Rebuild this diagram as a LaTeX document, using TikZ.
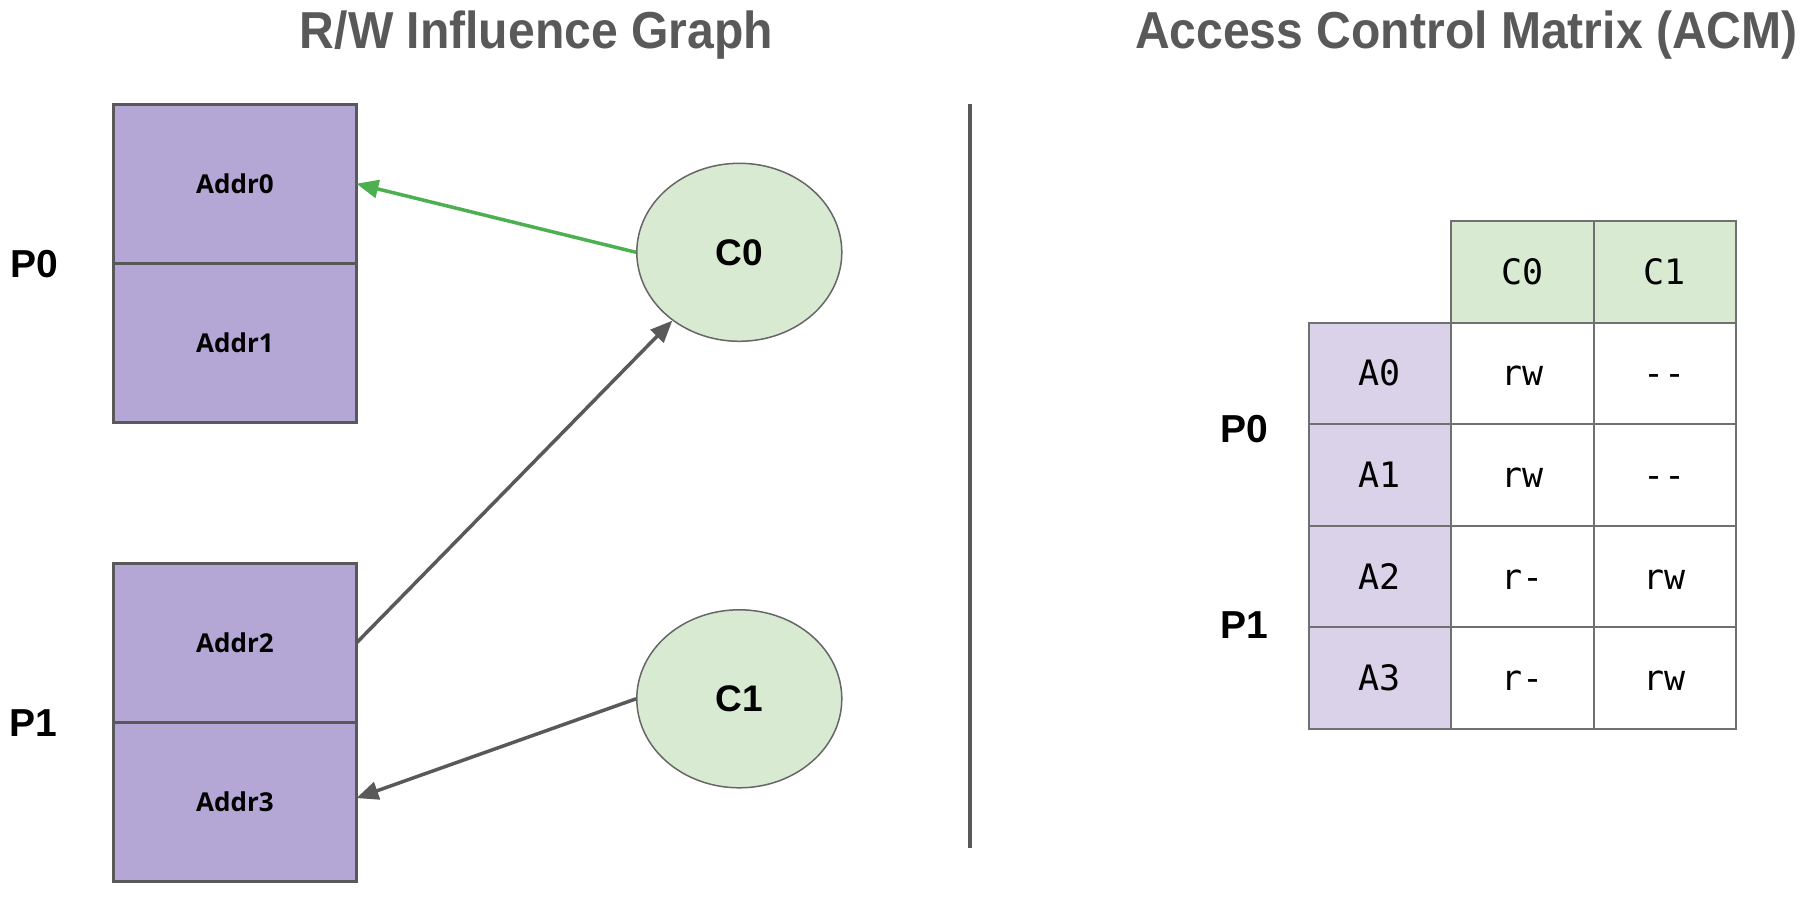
\documentclass[tikz,border=0pt]{standalone}
\usepackage{fontspec}
\setmainfont{Liberation Sans}
\newfontfamily\titlefont[FakeStretch=0.925]{Liberation Sans Bold}
\newfontfamily\addrfont{Open Sans}
\newfontfamily\monofont{DejaVu Sans Mono}
\usetikzlibrary{shapes.geometric,arrows.meta,calc}
\definecolor{boxfill}{HTML}{B4A7D6}
\definecolor{ellfill}{HTML}{D9EAD3}
\definecolor{rowfill}{HTML}{D9D2E9}
\definecolor{darkgray}{HTML}{595959}
\definecolor{tablegray}{HTML}{707070}
\definecolor{ellgray}{HTML}{666666}
\definecolor{arrowgreen}{HTML}{4CAF50}
\tikzset{
  title/.style={anchor=base, text=darkgray, font=\titlefont\fontsize{52}{60}\selectfont, inner sep=0pt},
  addr/.style={draw=darkgray, fill=boxfill, line width=3pt, minimum width=243pt, minimum height=159.1pt,
    inner sep=0pt, outer sep=0pt, font=\addrfont\bfseries\fontsize{26}{30}\selectfont},
  cnode/.style={ellipse, draw=ellgray, fill=ellfill, line width=1.5pt, minimum width=205pt, minimum height=178pt,
    inner sep=0pt, font=\bfseries\fontsize{37}{42}\selectfont},
  plabel/.style={font=\bfseries\fontsize{39}{44}\selectfont, inner sep=0pt},
  cell/.style={draw=tablegray, line width=2pt, minimum width=142.5pt, minimum height=101.6pt, inner sep=0pt,
    outer sep=0pt, text height=25pt, text depth=0pt, font=\monofont\fontsize{35}{40}\selectfont},
  hdr/.style={cell, fill=ellfill},
  rowhdr/.style={cell, fill=rowfill},
  grayarrow/.style={draw=darkgray, line width=3.5pt, -{Triangle[length=22pt,width=18pt]}},
  greenarrow/.style={draw=arrowgreen, line width=3.5pt, -{Triangle[length=22pt,width=18pt]}},
  divider/.style={draw=darkgray, line width=4pt},
}
\begin{document}
\begin{tikzpicture}[x=1pt,y=-1pt]
\useasboundingbox (0,0) rectangle (1814,904);
% titles
\node[title] (t1) at (536.5,48.6) {R/W Influence Graph};
\node[title] (t2) at (1466.4,48.6) {Access Control Matrix (ACM)};
% address boxes
\node[addr] (a0) at (234.9,183.7) {Addr0};
\node[addr] (a1) at (234.9,342.8) {Addr1};
\node[addr] (a2) at (234.9,643.0) {Addr2};
\node[addr] (a3) at (234.9,802.1) {Addr3};
\node[plabel] (p0l) at (34,264) {P0};
\node[plabel] (p1l) at (33,723) {P1};
% cores
\node[cnode] (c0) at (739.3,252.3) {C0};
\node[cnode] (c1) at (739.3,698.8) {C1};
% arrows
\draw[greenarrow] (c0.west) -- (a0.east);
\draw[grayarrow] (a2.east) -- (c0);
\draw[grayarrow] (c1.west) -- ($(a3.east)+(0,-4)$);
% divider
\coordinate (dtop) at (969.5,104);
\coordinate (dbot) at (969.5,847.5);
\draw[divider] (dtop) -- (dbot);
% table
\node[hdr] (h0) at (1522.25,271.8) {C0};
\node[hdr] (h1) at (1664.75,271.8) {C1};
\node[rowhdr] (r0) at (1379.75,373.4) {A0};
\node[cell] (r0c0) at (1522.25,373.4) {rw};
\node[cell] (r0c1) at (1664.75,373.4) {{-}{-}};
\node[rowhdr] (r1) at (1379.75,475.0) {A1};
\node[cell] (r1c0) at (1522.25,475.0) {rw};
\node[cell] (r1c1) at (1664.75,475.0) {{-}{-}};
\node[rowhdr] (r2) at (1379.75,576.6) {A2};
\node[cell] (r2c0) at (1522.25,576.6) {r-};
\node[cell] (r2c1) at (1664.75,576.6) {rw};
\node[rowhdr] (r3) at (1379.75,678.2) {A3};
\node[cell] (r3c0) at (1522.25,678.2) {r-};
\node[cell] (r3c1) at (1664.75,678.2) {rw};
\node[plabel] (p0r) at (1244.7,429.5) {P0};
\node[plabel] (p1r) at (1244.7,624.7) {P1};
\end{tikzpicture}
\end{document}
